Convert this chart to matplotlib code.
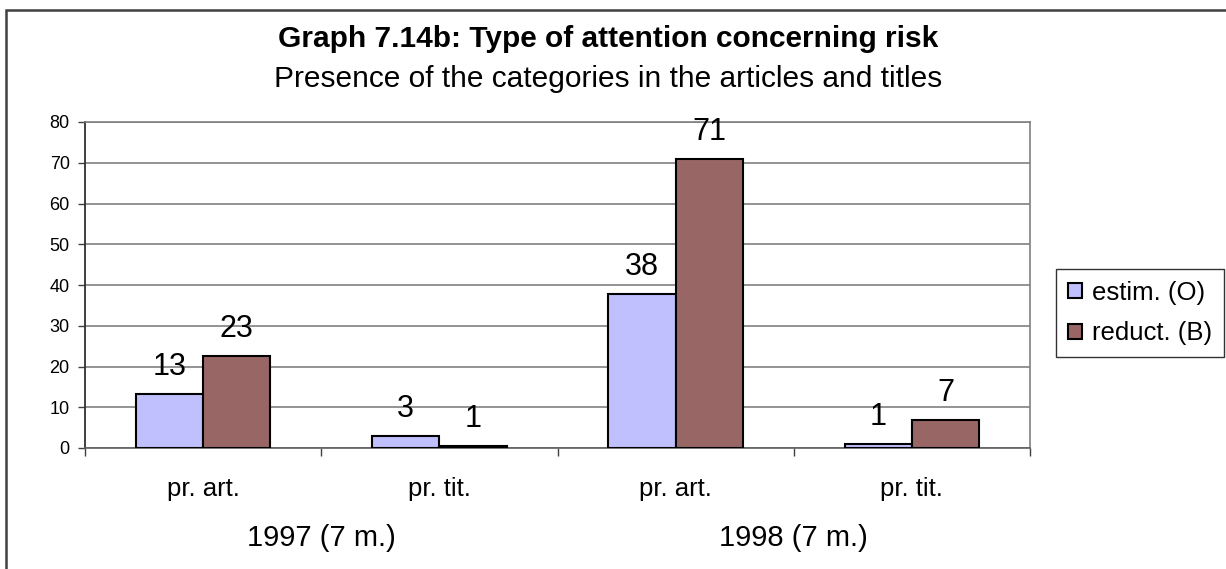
import matplotlib
matplotlib.use('Agg')
import matplotlib.pyplot as plt
from matplotlib.patches import Rectangle
import numpy as np

plt.rcParams['font.family'] = ['Liberation Sans', 'DejaVu Sans']

# data
categories = ['pr. art.', 'pr. tit.', 'pr. art.', 'pr. tit.']
years = ['1997 (7 m.)', '1998 (7 m.)']
estim = [13.2, 3.0, 37.8, 1.1]
reduct = [22.6, 0.6, 70.9, 6.9]
series_names = ['estim. (O)', 'reduct. (B)']

W, H = 1226, 569
fig = plt.figure(figsize=(W / 100, H / 100), dpi=100)
ax = fig.add_axes([85 / W, 1 - 448 / H, (1030 - 85) / W, (448 - 122) / H])

x = np.arange(len(categories))
bw = 0.285
b1 = ax.bar(x - bw / 2, estim, bw, color='#C0C0FF', edgecolor='black', linewidth=1.5, label=series_names[0], zorder=3)
b2 = ax.bar(x + bw / 2, reduct, bw, color='#996666', edgecolor='black', linewidth=1.5, label=series_names[1], zorder=3)

# value labels above bars
for bars, vals in ((b1, estim), (b2, reduct)):
    for r, v in zip(bars, vals):
        ax.annotate(f"{v:.0f}", (r.get_x() + r.get_width() / 2, v), xytext=(0, 13.5),
                    textcoords='offset points', ha='center', va='baseline', fontsize=22)

ax.set_xlim(-0.5, 3.5)
ax.set_ylim(0, 80)
ax.set_yticks(range(0, 81, 10))
ax.tick_params(axis='y', labelsize=13, length=5, width=1, color='#404040', pad=6)
ax.yaxis.grid(True, color='#808080', linewidth=1.2, zorder=0)

ax.set_xticks(x)
ax.set_xticklabels(categories, fontsize=18.5)
ax.tick_params(axis='x', which='major', length=0, pad=21)
ax.set_xticks(np.arange(-0.5, 4, 1), minor=True)
ax.tick_params(axis='x', which='minor', length=6, width=1, color='#404040', direction='out')

for s in ('top', 'right'):
    ax.spines[s].set_color('#808080')
    ax.spines[s].set_linewidth(1.2)
ax.spines['left'].set_color('#303030')
ax.spines['left'].set_linewidth(1.3)
ax.spines['bottom'].set_color('#606060')
ax.spines['bottom'].set_linewidth(1.2)

# year group labels
for i, yr in enumerate(years):
    ax.text(2 * i + 0.5, -(538 - 448) / (448 - 122), yr, transform=ax.get_xaxis_transform(),
            ha='center', va='center', fontsize=21)

# titles
fig.text(608 / W, 1 - 47 / H, 'Graph 7.14b: Type of attention concerning risk',
         ha='center', va='baseline', fontsize=21.5, fontweight='bold')
fig.text(608 / W, 1 - 87 / H, 'Presence of the categories in the articles and titles',
         ha='center', va='baseline', fontsize=21.5)

leg = fig.legend(loc='center', bbox_to_anchor=(1140 / W, 1 - 313 / H), fontsize=18.5,
                 frameon=True, fancybox=False, edgecolor='black', handlelength=0.55,
                 handleheight=0.55, handletextpad=0.4, borderpad=0.45, labelspacing=0.65,
                 borderaxespad=0)
leg.get_frame().set_linewidth(1.0)

# outer chart border (right and bottom fall outside the picture)
fig.add_artist(Rectangle((6 / W, -0.05), 1.2, 1 - 10 / H + 0.05, transform=fig.transFigure,
                         fill=False, edgecolor='#404040', linewidth=1.8))

fig.savefig('out.png', dpi=100)
